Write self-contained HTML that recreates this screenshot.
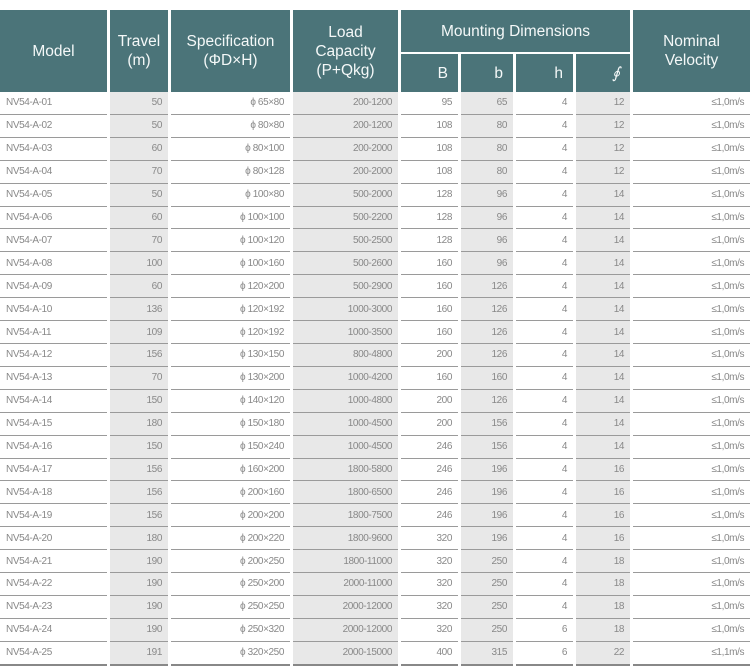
<!DOCTYPE html>
<html><head><meta charset="utf-8"><style>
body{margin:0;background:#fff;width:750px;height:670px;overflow:hidden}
table{position:absolute;top:10px;left:-3px;width:756px;border-collapse:separate;border-spacing:3px 0;table-layout:fixed;font-family:"Liberation Sans",sans-serif}
th{background:#4b7479;color:#f4f8f8;font-weight:normal;font-size:15.5px;line-height:19px;padding:0}
td{height:21.92px;padding:0 6px;border-bottom:1px solid #9a9a9a;font-size:10px;color:#888;text-align:right;letter-spacing:-0.4px}
td:first-child{text-align:left;padding-left:6px}
td:nth-child(2),td:nth-child(4),td:nth-child(6),td:nth-child(8){background:#e8e8e8}
tr:last-child td{border-bottom:2px solid #888}
.sub th{text-align:right;padding-right:10px;height:38px}
.md{border-bottom:2px solid #fff;height:42px}
</style></head><body>
<table>
<colgroup><col style="width:107px"><col style="width:58px"><col style="width:119px"><col style="width:105px"><col style="width:57px"><col style="width:52px"><col style="width:57px"><col style="width:54px"><col style="width:117px"></colgroup>
<tr><th rowspan="2">Model</th><th rowspan="2">Travel<br>(m)</th><th rowspan="2">Specification<br>(ΦD×H)</th><th rowspan="2">Load<br>Capacity<br>(P+Qkg)</th><th colspan="4" class="md">Mounting Dimensions</th><th rowspan="2">Nominal<br>Velocity</th></tr>
<tr class="sub"><th>B</th><th>b</th><th>h</th><th><i>∮</i></th></tr>
<tr><td>NV54-A-01</td><td>50</td><td>ϕ 65×80</td><td>200-1200</td><td>95</td><td>65</td><td>4</td><td>12</td><td>≤1,0m/s</td></tr>
<tr><td>NV54-A-02</td><td>50</td><td>ϕ 80×80</td><td>200-1200</td><td>108</td><td>80</td><td>4</td><td>12</td><td>≤1,0m/s</td></tr>
<tr><td>NV54-A-03</td><td>60</td><td>ϕ 80×100</td><td>200-2000</td><td>108</td><td>80</td><td>4</td><td>12</td><td>≤1,0m/s</td></tr>
<tr><td>NV54-A-04</td><td>70</td><td>ϕ 80×128</td><td>200-2000</td><td>108</td><td>80</td><td>4</td><td>12</td><td>≤1,0m/s</td></tr>
<tr><td>NV54-A-05</td><td>50</td><td>ϕ 100×80</td><td>500-2000</td><td>128</td><td>96</td><td>4</td><td>14</td><td>≤1,0m/s</td></tr>
<tr><td>NV54-A-06</td><td>60</td><td>ϕ 100×100</td><td>500-2200</td><td>128</td><td>96</td><td>4</td><td>14</td><td>≤1,0m/s</td></tr>
<tr><td>NV54-A-07</td><td>70</td><td>ϕ 100×120</td><td>500-2500</td><td>128</td><td>96</td><td>4</td><td>14</td><td>≤1,0m/s</td></tr>
<tr><td>NV54-A-08</td><td>100</td><td>ϕ 100×160</td><td>500-2600</td><td>160</td><td>96</td><td>4</td><td>14</td><td>≤1,0m/s</td></tr>
<tr><td>NV54-A-09</td><td>60</td><td>ϕ 120×200</td><td>500-2900</td><td>160</td><td>126</td><td>4</td><td>14</td><td>≤1,0m/s</td></tr>
<tr><td>NV54-A-10</td><td>136</td><td>ϕ 120×192</td><td>1000-3000</td><td>160</td><td>126</td><td>4</td><td>14</td><td>≤1,0m/s</td></tr>
<tr><td>NV54-A-11</td><td>109</td><td>ϕ 120×192</td><td>1000-3500</td><td>160</td><td>126</td><td>4</td><td>14</td><td>≤1,0m/s</td></tr>
<tr><td>NV54-A-12</td><td>156</td><td>ϕ 130×150</td><td>800-4800</td><td>200</td><td>126</td><td>4</td><td>14</td><td>≤1,0m/s</td></tr>
<tr><td>NV54-A-13</td><td>70</td><td>ϕ 130×200</td><td>1000-4200</td><td>160</td><td>160</td><td>4</td><td>14</td><td>≤1,0m/s</td></tr>
<tr><td>NV54-A-14</td><td>150</td><td>ϕ 140×120</td><td>1000-4800</td><td>200</td><td>126</td><td>4</td><td>14</td><td>≤1,0m/s</td></tr>
<tr><td>NV54-A-15</td><td>180</td><td>ϕ 150×180</td><td>1000-4500</td><td>200</td><td>156</td><td>4</td><td>14</td><td>≤1,0m/s</td></tr>
<tr><td>NV54-A-16</td><td>150</td><td>ϕ 150×240</td><td>1000-4500</td><td>246</td><td>156</td><td>4</td><td>14</td><td>≤1,0m/s</td></tr>
<tr><td>NV54-A-17</td><td>156</td><td>ϕ 160×200</td><td>1800-5800</td><td>246</td><td>196</td><td>4</td><td>16</td><td>≤1,0m/s</td></tr>
<tr><td>NV54-A-18</td><td>156</td><td>ϕ 200×160</td><td>1800-6500</td><td>246</td><td>196</td><td>4</td><td>16</td><td>≤1,0m/s</td></tr>
<tr><td>NV54-A-19</td><td>156</td><td>ϕ 200×200</td><td>1800-7500</td><td>246</td><td>196</td><td>4</td><td>16</td><td>≤1,0m/s</td></tr>
<tr><td>NV54-A-20</td><td>180</td><td>ϕ 200×220</td><td>1800-9600</td><td>320</td><td>196</td><td>4</td><td>16</td><td>≤1,0m/s</td></tr>
<tr><td>NV54-A-21</td><td>190</td><td>ϕ 200×250</td><td>1800-11000</td><td>320</td><td>250</td><td>4</td><td>18</td><td>≤1,0m/s</td></tr>
<tr><td>NV54-A-22</td><td>190</td><td>ϕ 250×200</td><td>2000-11000</td><td>320</td><td>250</td><td>4</td><td>18</td><td>≤1,0m/s</td></tr>
<tr><td>NV54-A-23</td><td>190</td><td>ϕ 250×250</td><td>2000-12000</td><td>320</td><td>250</td><td>4</td><td>18</td><td>≤1,0m/s</td></tr>
<tr><td>NV54-A-24</td><td>190</td><td>ϕ 250×320</td><td>2000-12000</td><td>320</td><td>250</td><td>6</td><td>18</td><td>≤1,0m/s</td></tr>
<tr><td>NV54-A-25</td><td>191</td><td>ϕ 320×250</td><td>2000-15000</td><td>400</td><td>315</td><td>6</td><td>22</td><td>≤1,1m/s</td></tr>
</table>
</body></html>
